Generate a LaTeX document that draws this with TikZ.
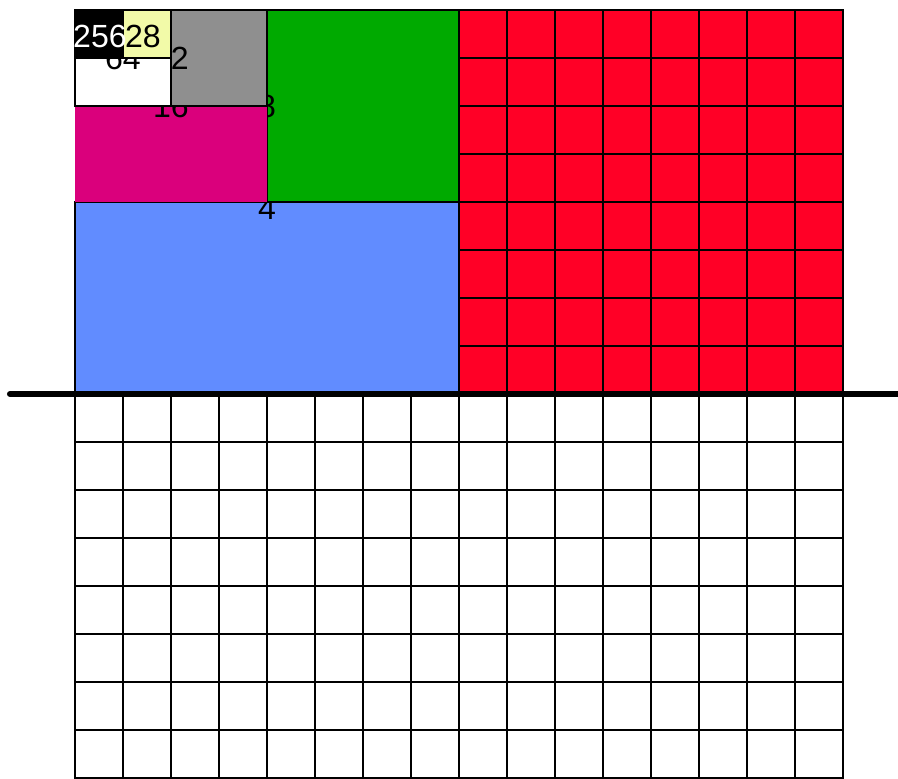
\documentclass[tikz,border=0pt]{standalone}
\usepackage{fontspec}
\setmainfont{Liberation Sans}
\usepackage{tikz}
\usetikzlibrary{positioning}

\definecolor{tileRed}{RGB}{255,0,38}
\definecolor{tileBlue}{RGB}{97,140,255}
\definecolor{tileGreen}{RGB}{0,170,0}
\definecolor{tileMagenta}{RGB}{218,0,124}
\definecolor{tileGray}{RGB}{143,143,143}
\definecolor{tileYellow}{RGB}{242,250,168}

\begin{document}
\begin{tikzpicture}[
    x=0.8cm, y=0.8cm,
    font=\fontsize{15.2}{18}\selectfont,
    cell/.style={draw=black, line width=1.2pt},
    tile/.style={draw=black, line width=1.2pt},
    lbl/.style={inner sep=0pt, anchor=center}
  ]
  \useasboundingbox (-1.5625,-8.0208) rectangle (17.146,8.2083);

  % Rejilla inferior y cuadros rojos
  \foreach \i in {0,...,15}
    \foreach \j in {1,...,8}
      \draw[cell, fill=white] (\i,-\j) rectangle ++(1,1);
  \foreach \i in {8,...,15}
    \foreach \j in {0,...,7}
      \draw[cell, fill=tileRed] (\i,\j) rectangle ++(1,1);

  % Rectangulos que se van partiendo a la mitad
  \draw[tile, fill=tileBlue] (0,0) rectangle (8,4);
  \node[lbl] (l4) at (4,3.875) {4};
  \draw[tile, fill=tileGreen] (4,4) rectangle (8,8);
  \node[lbl] (l8) at (4,6) {8};
  \fill[tileMagenta] (0,4) rectangle (4,6);
  \node[lbl] (l16) at (2,6) {16};
  \draw[tile, fill=tileGray] (2,6) rectangle (4,8);
  \node[lbl] (l32) at (2,7) {32};
  \draw[tile, fill=white] (0,6) rectangle (2,7);
  \node[lbl] (l64) at (1,7) {64};
  \draw[tile, fill=tileYellow] (1,7) rectangle (2,8);
  \node[lbl] (l128) at (1.23,7.44) {128};
  \draw[tile, fill=black] (0,7) rectangle (1,8);
  \node[lbl, text=white] (l256) at (0.52,7.44) {256};

  % Eje
  \coordinate (axL) at (-1.354,0);
  \coordinate (axR) at (17.3,0);
  \draw[line width=2.9pt, line cap=round] (axL) -- (axR);
\end{tikzpicture}
\end{document}
